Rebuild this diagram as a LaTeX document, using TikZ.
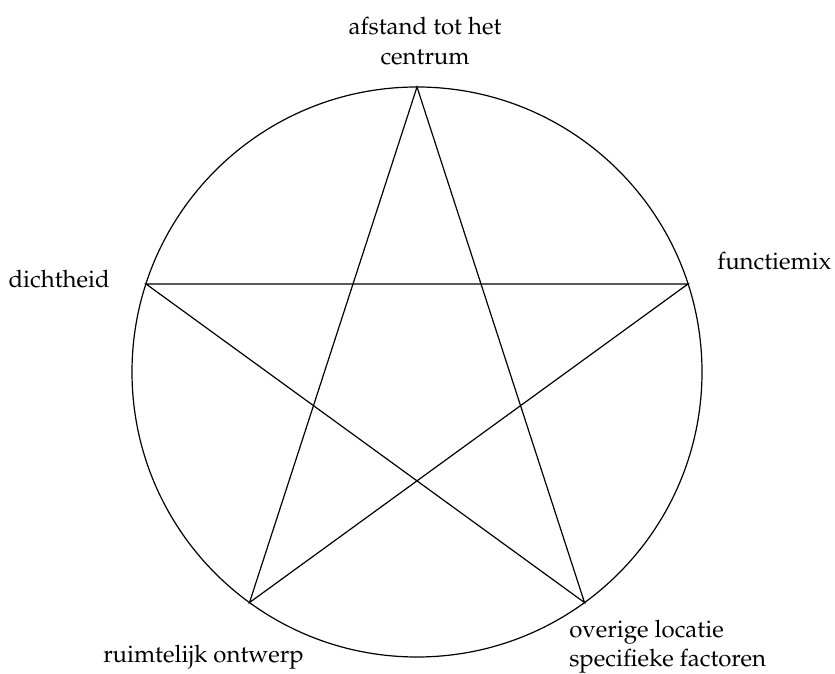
\documentclass[tikz,border=0pt]{standalone}
\usepackage[T1]{fontenc}
\usepackage{mathpazo}
\usetikzlibrary{calc}
\tikzset{
  rim/.style  ={draw=black, line width=0.9pt},
  ster/.style ={draw=black, line width=0.9pt, line join=miter},
  lab/.style  ={font=\fontsize{18}{22.5}\selectfont, inner sep=0pt, align=center},
}

\begin{document}
\begin{tikzpicture}[x=0.75pt,y=0.75pt]
  \useasboundingbox (0,0) rectangle (835,674);
  \coordinate (m) at (417,302);
  \draw[rim] (m) circle (285);
  % hoekpunten van de ster
  \coordinate (p1) at ($(m)+(90:285)$);
  \coordinate (p2) at ($(m)+(18:285)$);
  \coordinate (p3) at ($(m)+(-54:285)$);
  \coordinate (p4) at ($(m)+(234:285)$);
  \coordinate (p5) at ($(m)+(162:285)$);
  \draw[ster] (p1) -- (p3) -- (p5) -- (p2) -- (p4) -- cycle;
  % labels
  \node[lab,anchor=base] (afstand) at (425,609) {afstand tot het\\centrum};
  \node[lab,anchor=base west] (functie) at (717,404) {functiemix};
  \node[lab,anchor=base east] (dicht) at (110,386) {dichtheid};
  \node[lab,anchor=base west,align=left] (overig) at (569,7) {overige locatie\\specifieke factoren};
  \node[lab,anchor=base west] (ruimte) at (103,11) {ruimtelijk ontwerp};
\end{tikzpicture}
\end{document}
